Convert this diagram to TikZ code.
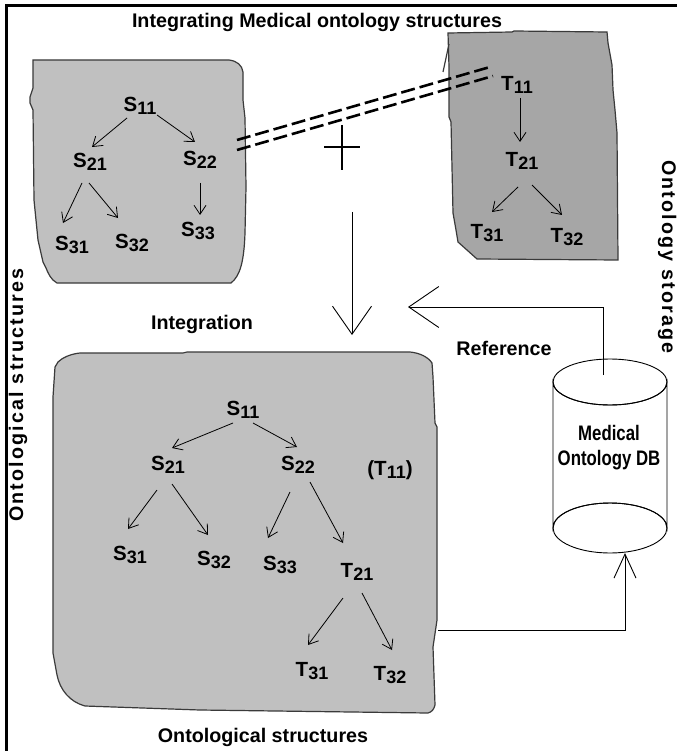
\documentclass[tikz,border=0pt]{standalone}
\usepackage{fontspec}
\setmainfont{Liberation Sans}
\usetikzlibrary{arrows.meta}

\definecolor{blobfill}{HTML}{C0C0C0}
\definecolor{blobdark}{HTML}{A6A6A6}
\definecolor{blobline}{HTML}{3A3A3A}

% concept label with a lowered index, e.g. S_11
\newcommand\lbl[2]{#1\raisebox{-3pt}{\fontsize{18}{18}\selectfont #2}}

\begin{document}
\begin{tikzpicture}[x=1pt,y=-1pt,
  lab/.style={font=\fontsize{20.5}{22}\selectfont\bfseries, inner sep=0pt},
  ttl/.style={font=\fontsize{19.7}{22}\selectfont\bfseries, inner sep=0pt},
  blob/.style={draw=blobline, line width=1.2pt, fill=blobfill},
  tarr/.style={-{Straight Barb[length=9pt,width=12pt]}, line width=0.8pt},
  bigarr/.style={-{Straight Barb[length=28pt,width=39pt]}, line width=0.9pt},
  refarr/.style={-{Straight Barb[length=30pt,width=41pt]}, line width=0.9pt},
  dbarr/.style={-{Straight Barb[length=24pt,width=22pt]}, line width=0.9pt},
  link/.style={line width=2.6pt, dash pattern=on 14pt off 5pt},
]
\useasboundingbox (0,0) rectangle (677,751);
\fill[white] (0,0) rectangle (677,751);

% frame
\draw[line width=3pt] (5,6) -- (677,6);
\draw[line width=3pt] (6.5,4.5) -- (6.5,751);

% title and side captions
\node[ttl, anchor=base] (title) at (317,28) {Integrating Medical ontology structures};
\node[ttl, rotate=90, anchor=base] (lside) at (23,395)
  {\addfontfeature{LetterSpace=11}Ontological structures};
\node[ttl, rotate=-90, anchor=base] (rside) at (662,257)
  {\addfontfeature{LetterSpace=11}Ontology storage};

% source structure
\path[blob] (33,60) -- (229,60) .. controls (237,61) and (242,65) .. (243,72)
  -- (243,100) -- (245,118) -- (246,187) -- (245,233)
  .. controls (244,262) and (240,276) .. (231,283) -- (57,283)
  .. controls (51,280) and (48,273) .. (46,268) -- (43,262) -- (38,240)
  -- (34,200) -- (33,110) -- (30,103) -- (30,97) -- (33,88) -- cycle;

% target structure
\path[blob, fill=blobdark] (448,33) -- (512,32) -- (514,31) -- (607,32) -- (608,43)
  -- (612,65) -- (613,90) -- (615,110) -- (617,133) -- (618,260) -- (477,259)
  -- (458,242) -- (456,230) -- (453,213) -- (451,122) -- (449,117) -- (449,67) -- cycle;
\draw[blobline, line width=1.2pt] (449,44) -- (443,72);

% integrated structure
\path[blob] (58,362) .. controls (62,358) and (70,354) .. (80,353) -- (183,353)
  -- (187,352) -- (410,352) .. controls (420,353) and (428,357) .. (432,363)
  -- (433,377) -- (435,423) -- (437,427) -- (437,620) -- (433,647) -- (435,705)
  .. controls (434,709) and (432,712) .. (428,713) -- (200,710) -- (85,706)
  .. controls (70,702) and (60,690) .. (57,675) -- (53,653) -- (53,397)
  -- (55,367) -- cycle;

% source tree
\node[lab] (a11) at (140,106) {\lbl{S}{11}};
\node[lab] (a21) at (90,162) {\lbl{S}{21}};
\node[lab] (a22) at (200,160) {\lbl{S}{22}};
\node[lab] (a31) at (72,245) {\lbl{S}{31}};
\node[lab] (a32) at (132,243) {\lbl{S}{32}};
\node[lab] (a33) at (198,231) {\lbl{S}{33}};
\draw[tarr] ([shift={(-13,12)}]a11.center) -- ([shift={(2,-15)}]a21.center);
\draw[tarr] ([shift={(17,9)}]a11.center) -- ([shift={(-5,-18)}]a22.center);
\draw[tarr] ([shift={(-8,21)}]a21.center) -- ([shift={(-9,-22)}]a31.center);
\draw[tarr] ([shift={(-1,21)}]a21.center) -- ([shift={(-14,-25)}]a32.center);
\draw[tarr] ([shift={(0,23)}]a22.center) -- ([shift={(2,-16)}]a33.center);

% target tree
\node[lab] (c11) at (517,85) {\lbl{T}{11}};
\node[lab] (c21) at (522,161) {\lbl{T}{21}};
\node[lab] (c31) at (487,233) {\lbl{T}{31}};
\node[lab] (c32) at (567,237) {\lbl{T}{32}};
\draw[tarr] ([shift={(3,13)}]c11.center) -- ([shift={(-2,-19)}]c21.center);
\draw[tarr] ([shift={(-4,26)}]c21.center) -- ([shift={(5,-21)}]c31.center);
\draw[tarr] ([shift={(10,24)}]c21.center) -- ([shift={(-5,-22)}]c32.center);

% correspondence S22 ~ T11
\coordinate (dA1) at (237,140);
\coordinate (dB1) at (237,150);
\draw[link] (dA1) -- ([shift={(-27,-18)}]c11.center);
\draw[link] (dB1) -- ([shift={(-24,-9)}]c11.center);

% plus sign
\coordinate (plus) at (342,147);
\draw[line width=1.5pt] ([xshift=-18pt]plus) -- ([xshift=18pt]plus);
\draw[line width=1.5pt] ([yshift=22pt]plus) -- ([yshift=-23pt]plus);

% integration arrow
\coordinate (intTop) at (352,212);
\coordinate (intTip) at (352,335);
\draw[bigarr] (intTop) -- (intTip);
\node[ttl, anchor=base] (integ) at (202,329) {Integration};

% integrated tree
\node[lab] (b11) at (243,410) {\lbl{S}{11}};
\node[lab] (b21) at (168,465) {\lbl{S}{21}};
\node[lab] (b22) at (298,465) {\lbl{S}{22}};
\node[lab] (bT11) at (390,470) {(\lbl{T}{11})};
\node[lab] (b31) at (130,555) {\lbl{S}{31}};
\node[lab] (b32) at (214,560) {\lbl{S}{32}};
\node[lab] (b33) at (280,565) {\lbl{S}{33}};
\node[lab] (bt21) at (357,572) {\lbl{T}{21}};
\node[lab] (bt31) at (312,671) {\lbl{T}{31}};
\node[lab] (bt32) at (390,675) {\lbl{T}{32}};
\draw[tarr] ([shift={(-10,13)}]b11.center) -- ([shift={(4,-17)}]b21.center);
\draw[tarr] ([shift={(10,13)}]b11.center) -- ([shift={(-1,-18)}]b22.center);
\draw[tarr] ([shift={(-11,25)}]b21.center) -- ([shift={(-2,-26)}]b31.center);
\draw[tarr] ([shift={(4,19)}]b21.center) -- ([shift={(-6,-25)}]b32.center);
\draw[tarr] ([shift={(-8,27)}]b22.center) -- ([shift={(-12,-27)}]b33.center);
\draw[tarr] ([shift={(12,17)}]b22.center) -- ([shift={(-14,-29)}]bt21.center);
\draw[tarr] ([shift={(-14,26)}]bt21.center) -- ([shift={(-4,-26)}]bt31.center);
\draw[tarr] ([shift={(5,21)}]bt21.center) -- ([shift={(2,-25)}]bt32.center);

\node[ttl, anchor=base] (bottomcap) at (263,742.5) {Ontological structures};

% database cylinder
\draw[line width=0.9pt, fill=white] (553,382) -- (553,528) arc[start angle=180, end angle=360, x radius=57, y radius=25]
  -- (667,382) arc[start angle=0, end angle=180, x radius=57, y radius=23] -- cycle;
\draw[line width=0.9pt] (610,382) ellipse[x radius=57, y radius=23];
\draw[line width=0.9pt] (610,528) ellipse[x radius=57, y radius=25];
\node[font=\fontsize{21}{25}\selectfont\bfseries, align=center, inner sep=0pt] (db) at (609,448)
  {\scalebox{0.8}[1]{Medical}\\\scalebox{0.8}[1]{Ontology DB}};

% reference and storage links
\coordinate (refIn) at (603,375);
\coordinate (refTip) at (408,307);
\draw[refarr] (refIn) |- (refTip);
\node[ttl, anchor=base] (refl) at (504,355) {Reference};
\coordinate (b3out) at (438,630);
\coordinate (dbBottom) at (625,553);
\draw[dbarr] (b3out) -| (dbBottom);
\end{tikzpicture}
\end{document}
